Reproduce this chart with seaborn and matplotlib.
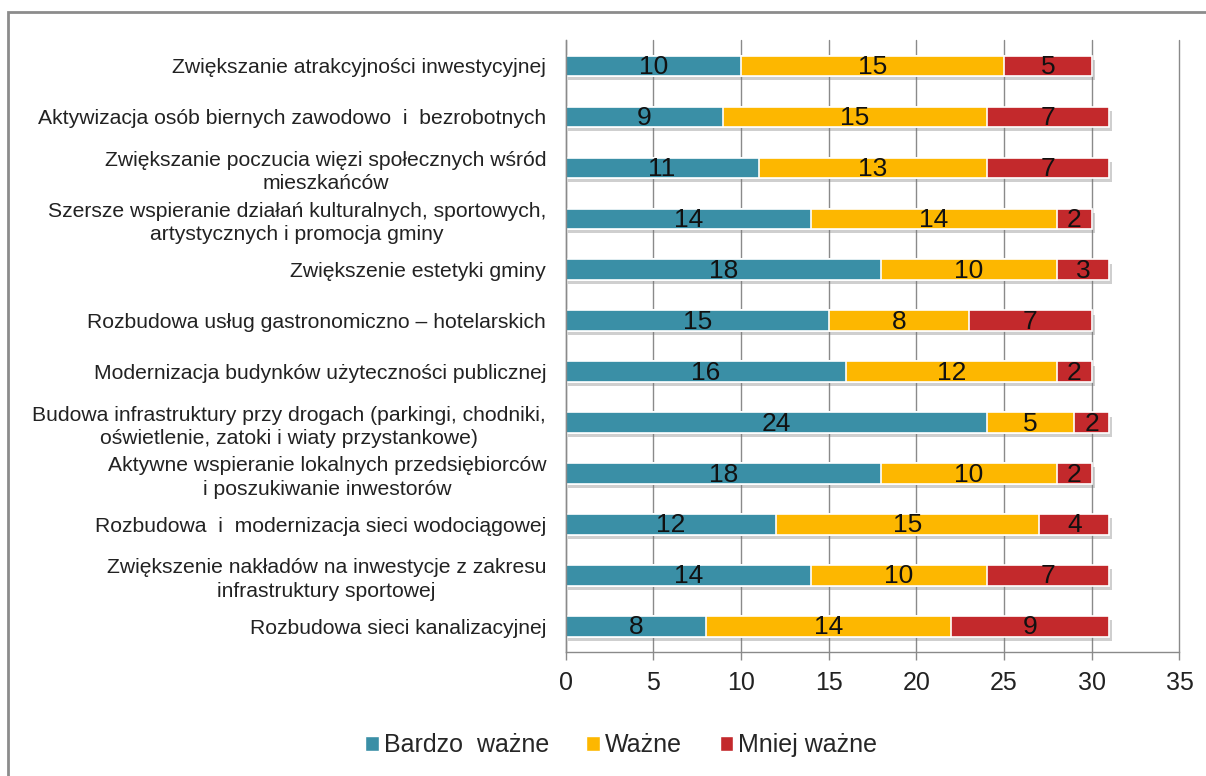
import numpy as np
import pandas as pd
import matplotlib.pyplot as plt
import matplotlib.patheffects as pe
from matplotlib.patches import Patch, Rectangle
import seaborn as sns

sns.set_theme(style="white")
plt.rcParams['font.family'] = ['Liberation Sans', 'DejaVu Sans']

kategorie = [
    "Zwiększanie atrakcyjności inwestycyjnej",
    "Aktywizacja osób biernych zawodowo  i  bezrobotnych",
    "Zwiększanie poczucia więzi społecznych wśród\nmieszkańców",
    "Szersze wspieranie działań kulturalnych, sportowych,\nartystycznych i promocja gminy",
    "Zwiększenie estetyki gminy",
    "Rozbudowa usług gastronomiczno – hotelarskich",
    "Modernizacja budynków użyteczności publicznej",
    "Budowa infrastruktury przy drogach (parkingi, chodniki,\noświetlenie, zatoki i wiaty przystankowe)",
    "Aktywne wspieranie lokalnych przedsiębiorców\ni poszukiwanie inwestorów",
    "Rozbudowa  i  modernizacja sieci wodociągowej",
    "Zwiększenie nakładów na inwestycje z zakresu\ninfrastruktury sportowej",
    "Rozbudowa sieci kanalizacyjnej",
]
bardzo_wazne = [10, 9, 11, 14, 18, 15, 16, 24, 18, 12, 14, 8]
wazne = [15, 15, 13, 14, 10, 8, 12, 5, 10, 15, 10, 14]
mniej_wazne = [5, 7, 7, 2, 3, 7, 2, 2, 2, 4, 7, 9]
serie = ["Bardzo  ważne", "Ważne", "Mniej ważne"]
kolory = ["#3A8FA6", "#FDB700", "#C3292C"]

df = pd.DataFrame({"kat": kategorie, "b": bardzo_wazne, "w": wazne, "m": mniej_wazne})
df["bw"] = df["b"] + df["w"]
df["suma"] = df["bw"] + df["m"]

fig = plt.figure(figsize=(12.06, 7.76), dpi=100)
ax = fig.add_axes([0.469, 0.160, 0.509, 0.788])

szer = 0.40
# warstwy skumulowane: suma -> b+w -> b
sns.barplot(data=df, x="suma", y="kat", orient="h", color=kolory[2], width=szer,
            edgecolor="white", linewidth=1.2, saturation=1, ax=ax)
for p in ax.patches:
    p.set_path_effects([pe.SimplePatchShadow(offset=(2, -3), shadow_rgbFace="#777777", alpha=0.35),
                        pe.Normal()])
sns.barplot(data=df, x="bw", y="kat", orient="h", color=kolory[1], width=szer,
            edgecolor="white", linewidth=1.2, saturation=1, ax=ax)
sns.barplot(data=df, x="b", y="kat", orient="h", color=kolory[0], width=szer,
            edgecolor="white", linewidth=1.2, saturation=1, ax=ax)

for i, r in df.iterrows():
    start = 0
    for v in [r["b"], r["w"], r["m"]]:
        ax.text(start + v / 2, i + 0.02, str(v), ha="center", va="center",
                fontsize=19, color="#111111")
        start += v

ax.set_xlim(0, 35)
ax.set_xticks(range(0, 36, 5))
ax.set_ylim(11.5, -0.5)
ax.set_xlabel("")
ax.set_ylabel("")
ax.xaxis.grid(True, color="#8A8A8A", linewidth=1)
ax.set_axisbelow(True)
for gl in ax.get_xgridlines():
    gl.set_clip_on(False)

ax.set_yticks(range(len(kategorie)))
ax.set_yticklabels(kategorie, fontsize=15.2, color="#222222", linespacing=1.3,
                   multialignment="center")
ax.set_yticks(np.arange(-0.5, len(kategorie), 1), minor=True)
ax.tick_params(axis="y", which="major", length=0, pad=14)
ax.tick_params(axis="y", which="minor", length=6, width=1, color="#8A8A8A", direction="out")
ax.tick_params(axis="x", which="major", length=6, width=1, color="#8A8A8A", direction="out",
               labelsize=18, labelcolor="#222222", pad=8)
ax.tick_params(left=True, bottom=True)

for s in ["top", "right"]:
    ax.spines[s].set_visible(False)
for s in ["left", "bottom"]:
    ax.spines[s].set_color("#8A8A8A")
    ax.spines[s].set_linewidth(1)

uchwyty = [Patch(facecolor=c, edgecolor="white", label=s) for c, s in zip(kolory, serie)]
fig.legend(handles=uchwyty, loc="center", bbox_to_anchor=(0.515, 0.04), ncol=3,
           frameon=False, fontsize=18, handlelength=0.55, handleheight=0.55,
           handletextpad=0.2, columnspacing=1.5)

fig.patches.append(Rectangle((8 / 1206, -0.02), 1.2, 1 - 12 / 776 + 0.02,
                             transform=fig.transFigure, fill=False,
                             edgecolor="#8C8C8C", linewidth=2))

fig.savefig("out.png", dpi=100)
